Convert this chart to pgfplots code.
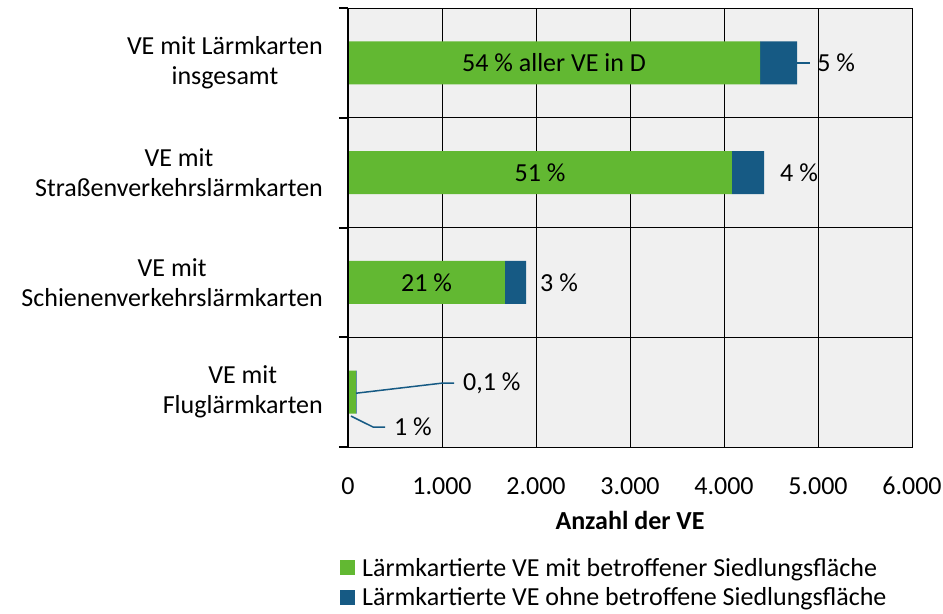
\documentclass[border=0pt]{standalone}
\usepackage{fontspec}
\setmainfont{Carlito}
\usepackage{pgfplots}
\pgfplotsset{compat=1.18}
\definecolor{vegreen}{RGB}{98,184,50}
\definecolor{veblue}{RGB}{22,90,132}
\definecolor{bggray}{RGB}{240,240,240}

\begin{document}
\begin{tikzpicture}
\begin{axis}[
  xbar stacked,
  scale only axis,
  width=564pt, height=439pt,
  xmin=0, xmax=6000, ymin=0, ymax=4,
  bar width=0.39,
  font=\fontsize{26}{30}\selectfont,
  axis background/.style={fill=bggray},
  axis line style={black, line width=0.9pt},
  xtick={0,1000,2000,3000,4000,5000,6000},
  xticklabels={0,1.000,2.000,3.000,4.000,5.000,6.000},
  xticklabel style={anchor=base, inner sep=0pt, yshift=-47pt},
  ytick={0.5,1.5,2.5,3.5},
  yticklabels={{VE mit\\Fluglärmkarten},{VE mit\\Schienenverkehrslärmkarten},{VE mit\\Straßenverkehrslärmkarten},{VE mit Lärmkarten\\insgesamt}},
  yticklabel style={align=center, inner sep=0pt, xshift=-25pt},
  major tick length=0pt,
  ytick pos=left,
  extra y ticks={0,1,2,3,4},
  extra y tick labels={},
  extra y tick style={major tick length=9pt, tick align=outside, ymajorgrids=true,
    tick style={black, line width=2pt}},
  xmajorgrids,
  grid style={black, line width=0.9pt},
  xlabel={\bfseries Anzahl der VE},
  xlabel style={at={(axis description cs:0.5,0)}, anchor=base, inner sep=0pt, yshift=-82pt},
  legend style={at={(axis description cs:0,0)}, anchor=north west, xshift=-8pt, yshift=-110pt,
    draw=none, fill=none, inner sep=0pt, row sep=8pt, column sep=6pt,
    nodes={inner sep=1pt}},
  legend cell align=left,
  legend image code/.code={\fill[#1] (0pt,-7.5pt) rectangle (15pt,7.5pt);},
  after end axis/.code={
    \draw[black, line width=2.5pt] (rel axis cs:0,0) -- (rel axis cs:0,1);
    \node at (axis cs:2192,3.5) {54 \% aller VE in D};
    \node at (axis cs:2043,2.5) {51 \%};
    \node at (axis cs:835,1.5) {21 \%};
    \draw[veblue, line width=1.5pt] (axis cs:4777,3.5) -- (axis cs:4920,3.5);
    \node[anchor=west, inner sep=0pt] at (axis cs:4990,3.5) {5 \%};
    \node[anchor=west, inner sep=0pt] at (axis cs:4596,2.5) {4 \%};
    \node[anchor=west, inner sep=0pt] at (axis cs:2043,1.5) {3 \%};
    \draw[veblue, line width=1.5pt] (axis cs:85,0.49) -- (axis cs:1010,0.583) -- (axis cs:1128,0.583);
    \node[anchor=west, inner sep=0pt] at (axis cs:1223,0.583) {0,1 \%};
    \draw[veblue, line width=1.5pt] (axis cs:32,0.282) -- (axis cs:266,0.182) -- (axis cs:394,0.182);
    \node[anchor=west, inner sep=0pt] at (axis cs:489,0.182) {1 \%};
  },
]
\addplot[fill=vegreen, draw=none] coordinates {(85,0.5) (1670,1.5) (4085,2.5) (4383,3.5)};
\addplot[fill=veblue, draw=none] coordinates {(8,0.5) (224,1.5) (341,2.5) (394,3.5)};
\legend{Lärmkartierte VE mit betroffener Siedlungsfläche, Lärmkartierte VE ohne betroffene Siedlungsfläche}
\end{axis}
\pgfresetboundingbox
\useasboundingbox ([shift={(-348pt,-166pt)}]current axis.south west) rectangle ([shift={(31pt,8pt)}]current axis.north east);
\end{tikzpicture}
\end{document}
